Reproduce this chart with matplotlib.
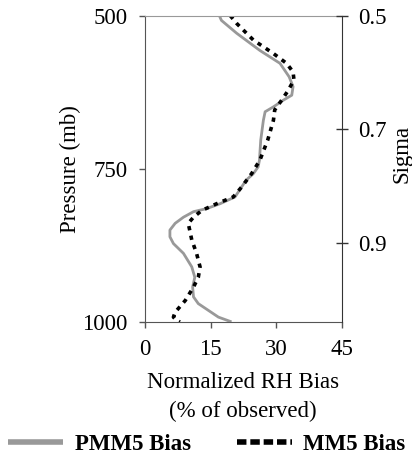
import matplotlib
matplotlib.use("Agg")
import matplotlib.pyplot as plt
from matplotlib.lines import Line2D

plt.rcParams["font.family"] = ["Liberation Serif", "DejaVu Serif"]
plt.rcParams["font.size"] = 16.5

# PMM5 normalized RH bias profile (% of observed) vs pressure (mb)
pmm5_pressure = [500, 508, 529, 557, 578, 600, 616, 630, 638, 649, 657, 671, 703,
                 736, 747, 758, 769, 780, 796, 807, 815, 820, 829, 839, 850, 861,
                 872, 888, 910, 927, 943, 959, 970, 981, 992, 999]
pmm5_bias = [17.0, 17.5, 21.0, 26.3, 30.9, 33.0, 33.9, 33.6, 31.7, 29.4, 27.5, 27.1, 26.5,
             26.2, 25.9, 24.8, 23.1, 22.1, 20.6, 17.2, 14.1, 11.1, 8.8, 6.9, 5.7, 5.7,
             6.5, 8.8, 10.7, 11.4, 10.9, 11.1, 12.2, 14.5, 16.8, 19.5]

# MM5 normalized RH bias profile
mm5_pressure = [500, 513, 540, 562, 578, 592, 605, 622, 638, 654, 671, 703, 736,
                758, 780, 796, 807, 818, 829, 839, 866, 888, 910, 927, 943, 965,
                984, 992, 997, 1000]
mm5_bias = [19.5, 21.0, 24.8, 29.4, 32.4, 33.9, 34.1, 32.8, 31.3, 29.7, 29.4, 28.1, 26.3,
            24.4, 22.1, 20.2, 16.4, 13.0, 11.1, 9.9, 10.7, 11.8, 12.6, 12.2, 11.1, 9.2,
            6.9, 6.5, 7.2, 8.0]

pressure_ticks = [500, 750, 1000]
sigma_ticks = [0.5, 0.7, 0.9]
x_ticks = [0, 15, 30, 45]

fig = plt.figure(figsize=(4.12, 4.63), dpi=100)
ax = fig.add_axes([0.352, 0.3045, 0.477, 0.662])

ax.plot(pmm5_bias, pmm5_pressure, color="#999999", lw=2)
ax.plot(mm5_bias, mm5_pressure, color="black", lw=2.6, linestyle=(0, (1.2, 1.5)))

ax.set_xlim(0, 45)
ax.set_ylim(1000, 500)
ax.set_xticks(x_ticks)
ax.set_yticks(pressure_ticks)
ax.tick_params(axis="y", direction="out", length=4.5, width=1, color="#555555", pad=8)
ax.tick_params(axis="x", direction="out", length=4, width=1, color="#555555", pad=8)
for side in ["left", "bottom"]:
    ax.spines[side].set_color("#555555")
ax.spines["top"].set_color("#999999")
ax.spines["right"].set_visible(False)

ax.set_ylabel("Pressure (mb)", labelpad=1)
ax.set_xlabel("Normalized RH Bias\n(% of observed)", labelpad=9, linespacing=1.45)

ax2 = ax.twinx()
ax2.set_ylim(1.038, 0.5)
ax2.set_yticks(sigma_ticks)
ax2.set_yticklabels([f"{s:.1f}" for s in sigma_ticks])
ax2.tick_params(axis="y", direction="inout", length=8.5, width=1, color="#333333", pad=7.5)
ax2.spines["right"].set_color("#333333")
for side in ["left", "top", "bottom"]:
    ax2.spines[side].set_visible(False)
ax2.set_ylabel("Sigma")
ax2.yaxis.set_label_coords(1.255, 0.55)

handles = [
    Line2D([], [], color="#999999", lw=4, solid_capstyle="butt"),
    Line2D([], [], color="black", lw=4, linestyle=(0, (1.7, 0.7)), dash_capstyle="butt"),
]
labels = ["PMM5 Bias", "MM5 Bias"]
fig.legend(handles, labels, loc="lower left", bbox_to_anchor=(0.02, 0.018), ncol=2,
           frameon=False, handlelength=2.4, handletextpad=0.5, columnspacing=2.0,
           borderaxespad=0, borderpad=0, prop={"weight": "bold", "size": 16.5})

fig.savefig("out.png", dpi=100)
